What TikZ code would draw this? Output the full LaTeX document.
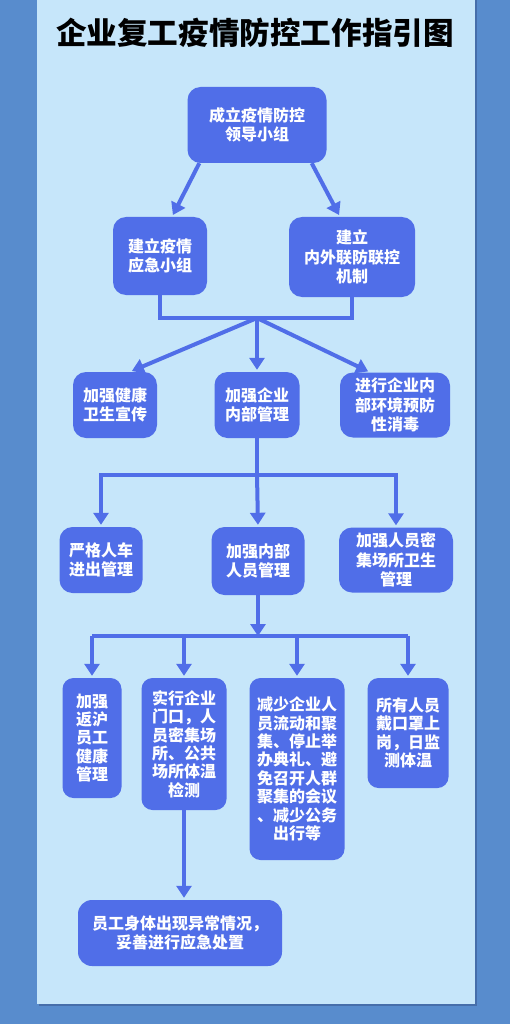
\documentclass[tikz,border=0pt]{standalone}
\usepackage{fontspec}
\newfontfamily\cjk{Noto Sans CJK SC}
\usetikzlibrary{arrows.meta}
\definecolor{outerbg}{RGB}{88,140,205}
\definecolor{panelbg}{RGB}{198,230,250}
\definecolor{panelshadow}{RGB}{70,110,170}
\definecolor{nodeblue}{RGB}{80,110,232}
\tikzset{
  box/.style={fill=nodeblue, text=white, rounded corners=13pt, align=center, inner sep=0pt,
    font=\cjk\bfseries\fontsize{16}{19.5}\selectfont},
  tallbox/.style={box, rounded corners=11pt, font=\cjk\bfseries\fontsize{16}{18.4}\selectfont},
  conn/.style={draw=nodeblue, line width=4pt},
  arr/.style={conn, -{Triangle[width=15pt,length=12pt]}, shorten >=2pt},
}
\begin{document}
\begin{tikzpicture}[x=1pt,y=-1pt]
\fill[outerbg] (0,0) rectangle (510,1024);
\fill[panelshadow] (39,0) rectangle (477,1006);
\fill[panelbg] (37,0) rectangle (475,1004);
\useasboundingbox (0,0) rectangle (510,1024);

\node[font=\cjk\bfseries\fontsize{30.6}{34}\selectfont, text=black] (title) at (255,33) {企业复工疫情防控工作指引图};

% level 1-2
\node[box, minimum width=139pt, minimum height=76pt] (n1) at (257,125) {成立疫情防控\\领导小组};
\node[box, minimum width=94pt, minimum height=78pt] (n2) at (160,256) {建立疫情\\应急小组};
\node[box, minimum width=126pt, minimum height=80pt] (n3) at (352,257) {建立\\内外联防联控\\机制};

% level 3
\node[box, minimum width=84pt, minimum height=66pt] (n4) at (115,405) {加强健康\\卫生宣传};
\node[box, minimum width=85pt, minimum height=66pt] (n5) at (257,405) {加强企业\\内部管理};
\node[box, minimum width=110pt, minimum height=65pt] (n6) at (395,405) {进行企业内\\部环境预防\\性消毒};

% level 4
\node[box, minimum width=83pt, minimum height=66pt] (n7) at (101,560) {严格人车\\进出管理};
\node[box, minimum width=93pt, minimum height=68pt] (n8) at (258,561) {加强内部\\人员管理};
\node[box, minimum width=114pt, minimum height=65pt] (n9) at (396,560) {加强人员密\\集场所卫生\\管理};

% level 5
\node[tallbox, minimum width=59pt, minimum height=120pt] (n10) at (92,738) {加强\\返沪\\员工\\健康\\管理};
\node[tallbox, minimum width=85pt, minimum height=132pt] (n11) at (184,744) {实行企业\\门口，人\\员密集场\\所、公共\\场所体温\\检测};
\node[tallbox, minimum width=95pt, minimum height=182pt] (n12) at (297,769) {减少企业人\\员流动和聚\\集、停止举\\办典礼、避\\免召开人群\\聚集的会议\\、减少公务\\出行等};
\node[tallbox, minimum width=81pt, minimum height=110pt] (n13) at (408,733) {所有人员\\戴口罩上\\岗，日监\\测体温};

% final
\node[tallbox, rounded corners=14pt, minimum width=204pt, minimum height=66pt] (n14) at (180,933) {员工身体出现异常情况，\\妥善进行应急处置};

% junction points
\coordinate (m1) at (257,318);
\coordinate (m2) at (257,475);
\coordinate (m3) at (258,636);

% connectors
\draw[arr] ([xshift=12pt]n1.south west) -- ([xshift=12pt]n2.north);
\draw[arr] ([xshift=-15pt]n1.south east) -- ([xshift=-12pt]n3.north);

\draw[conn] (n2.south) |- (m1) -| (n3.south);
\draw[arr] (m1) -- ([xshift=15pt]n4.north);
\draw[arr] (m1) -- (n5.north);
\draw[arr] (m1) -- ([xshift=-25pt]n6.north);

\draw[conn] (n5.south) -- (m2);
\draw[arr] (m2) -| (n7.north);
\draw[arr] (m2) -- (n8.north);
\draw[arr] (m2) -| (n9.north);

\draw[arr, shorten >=0pt] (n8.south) -- (m3);
\draw[conn] (n10.north |- m3) -- (n13.north |- m3);
\draw[arr] (n10.north |- m3) -- (n10.north);
\draw[arr] (n11.north |- m3) -- (n11.north);
\draw[arr] (n12.north |- m3) -- (n12.north);
\draw[arr] (n13.north |- m3) -- (n13.north);

\draw[arr] (n11.south) -- (n11.south |- n14.north);
\end{tikzpicture}
\end{document}
